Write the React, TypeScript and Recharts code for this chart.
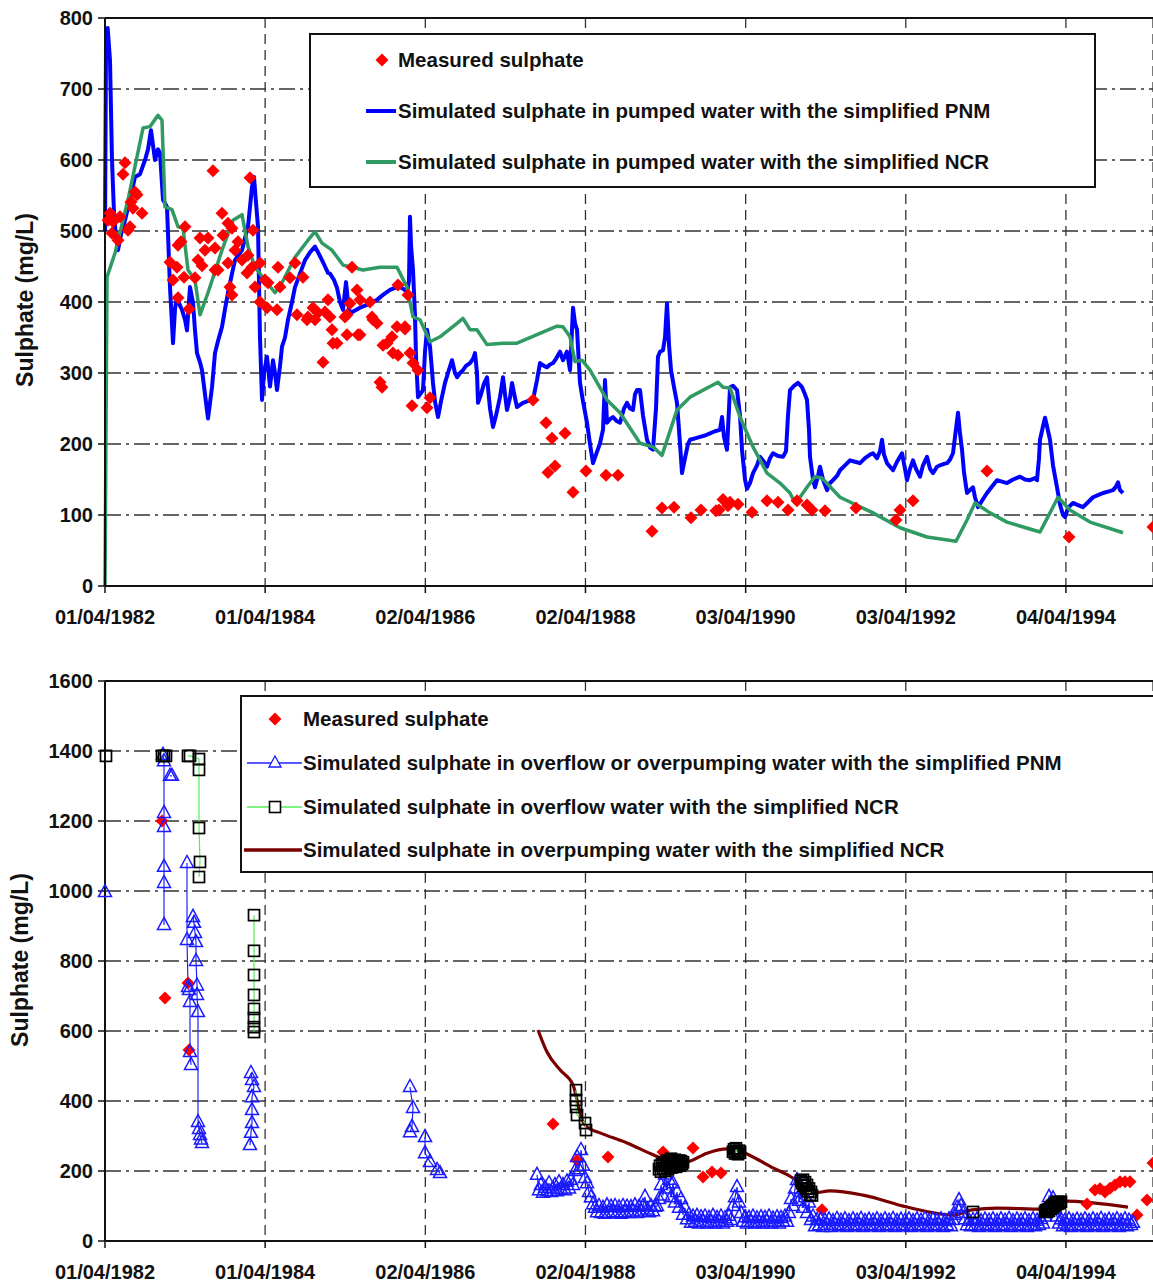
import React from 'react';
import { ComposedChart, Line, Scatter, XAxis, YAxis, CartesianGrid, ReferenceLine } from 'recharts';

// x values: months elapsed since 01/04/1982; y values: sulphate in mg/L
const xTickValues = [0, 24.02, 48.05, 72.07, 96.1, 120.12, 144.14];
const xTickLabels = ['01/04/1982', '01/04/1984', '02/04/1986', '02/04/1988', '03/04/1990', '03/04/1992', '04/04/1994'];
const topYTicks = [0, 100, 200, 300, 400, 500, 600, 700, 800];
const bottomYTicks = [0, 200, 400, 600, 800, 1000, 1200, 1400, 1600];

const topLegendLabels = [
  'Measured sulphate',
  'Simulated sulphate in pumped water with the simplified PNM',
  'Simulated sulphate in pumped water with the simplified NCR',
];
const bottomLegendLabels = [
  'Measured sulphate',
  'Simulated sulphate in overflow or overpumping water with the simplified PNM',
  'Simulated sulphate in overflow water with the simplified NCR',
  'Simulated sulphate in overpumping water with the simplified NCR',
];

const pnmPumped: [number, number][] = [
  [0,500],[0.15,760],[0.4,786],[0.6,760],[0.75,740],[1.05,600],[1.35,525],[1.65,490],[1.95,473],[2.4,495],[3,515],[3.75,545],[4.5,576],[5.25,580],[6,600],[6.45,615],[6.9,642],[7.5,600],[7.95,615],[8.25,610],[8.7,544],[9.3,534],[9.75,421],[10.2,342],[10.5,390],[10.8,407],[11.25,395],[11.55,389],[12,375],[12.3,360],[12.75,421],[13.2,399],[13.5,360],[13.8,328],[14.25,315],[14.55,304],[15,270],[15.45,236],[16.05,280],[16.5,328],[16.95,345],[17.55,365],[18,390],[18.45,413],[19.05,440],[19.5,459],[20.55,473],[21,490],[21.45,506],[22.05,562],[22.35,576],[22.65,540],[22.95,506],[23.25,350],[23.55,262],[23.85,300],[24.3,323],[24.75,281],[25.2,318],[25.5,300],[25.8,276],[26.25,310],[26.55,337],[27,350],[27.45,375],[28.05,400],[28.5,421],[29.25,440],[30,459],[30.75,470],[31.5,478],[31.95,470],[32.55,459],[33,450],[33.45,441],[33.75,440],[34.35,431],[34.8,420],[35.25,400],[35.7,389],[36.15,428],[36.45,400],[36.75,384],[37.5,388],[38.25,392],[39,395],[39.75,398],[40.8,403],[41.7,410],[42.75,417],[43.5,420],[44.25,421],[44.85,418],[45.3,413],[45.6,430],[45.75,520],[45.9,480],[46.2,445],[46.5,380],[46.65,323],[46.95,266],[47.25,270],[47.7,276],[48,330],[48.3,361],[48.75,337],[49.2,286],[49.5,260],[49.95,238],[50.4,260],[51,286],[51.45,300],[52.05,318],[52.5,300],[52.8,294],[53.25,300],[53.7,304],[54.15,310],[54.75,314],[55.2,320],[55.5,328],[55.8,300],[55.95,258],[56.4,270],[56.85,285],[57.3,294],[57.75,250],[58.2,224],[58.65,240],[59.25,266],[59.7,294],[60,270],[60.3,248],[60.75,265],[61.05,286],[61.5,265],[61.8,252],[62.25,255],[62.7,258],[63.3,260],[63.75,262],[64.2,262],[64.8,290],[65.25,314],[65.85,310],[66.3,308],[66.75,312],[67.2,314],[67.65,320],[68.25,330],[68.7,318],[69.3,330],[69.75,304],[69.9,330],[70.2,392],[70.5,370],[70.8,361],[71.25,286],[71.7,260],[72.3,230],[72.75,200],[73.2,173],[73.65,185],[74.25,201],[74.7,220],[75,290],[75.3,230],[75.75,235],[76.2,238],[76.8,232],[77.25,230],[77.85,250],[78.3,258],[78.75,250],[79.2,248],[79.5,270],[79.8,276],[80.25,276],[80.7,240],[81.3,206],[81.75,195],[82.2,192],[82.65,250],[82.95,323],[83.25,330],[83.7,332],[84,350],[84.3,398],[84.6,340],[84.9,304],[85.35,280],[85.8,258],[86.25,201],[86.55,159],[87,180],[87.45,200],[87.75,206],[88.5,208],[89.25,210],[90,212],[90.75,215],[91.5,218],[92.25,220],[92.55,238],[92.85,210],[93.3,192],[93.6,250],[93.75,280],[94.2,282],[94.8,276],[95.25,240],[95.55,192],[96,150],[96.3,137],[96.75,145],[97.2,159],[97.8,170],[98.25,182],[98.85,175],[99.3,168],[99.75,180],[100.2,187],[100.95,183],[101.7,182],[102.15,190],[102.45,240],[102.75,276],[103.35,282],[103.95,286],[104.55,280],[105,270],[105.3,262],[105.6,220],[105.75,182],[106.2,150],[106.5,139],[106.95,155],[107.25,168],[107.7,150],[108.3,135],[108.75,145],[109.2,149],[109.8,155],[110.25,163],[111,170],[111.75,177],[112.5,175],[113.25,173],[114,180],[114.75,185],[115.2,187],[115.8,180],[116.25,190],[116.55,206],[116.85,185],[117.3,173],[117.75,168],[118.2,163],[118.8,175],[119.55,187],[120,165],[120.3,149],[120.75,165],[121.2,177],[121.65,165],[122.25,154],[122.7,170],[123.3,182],[123.75,165],[124.2,159],[124.8,168],[125.25,170],[125.85,172],[126.3,173],[126.75,178],[127.2,187],[127.5,210],[127.95,244],[128.25,215],[128.55,192],[128.85,160],[129.3,131],[129.75,135],[130.2,139],[130.5,125],[130.95,111],[131.55,120],[132.3,131],[133.05,140],[133.8,149],[134.55,147],[135.3,145],[136.2,150],[137.25,154],[138,150],[138.75,149],[139.5,152],[139.8,149],[140.1,180],[140.25,206],[140.7,225],[141,237],[141.3,225],[141.75,206],[142.2,170],[142.8,139],[143.25,115],[143.7,100],[144,97],[144.45,110],[145.2,117],[145.95,114],[146.7,111],[147.45,118],[148.2,125],[148.95,128],[149.7,131],[150.45,133],[151.2,135],[151.65,140],[151.95,146],[152.25,135],[152.7,131],
];

const ncrPumped: [number, number][] = [
  [0,0],[0.3,435],[1.5,469],[3.45,544],[5.7,645],[6.75,647],[7.95,663],[8.55,656],[9,534],[10.05,530],[10.95,506],[11.7,504],[12.45,445],[13.5,431],[14.25,382],[15.45,413],[17.55,473],[19.2,515],[20.55,523],[21.45,478],[22.5,449],[24,431],[25.5,413],[26.55,427],[28.5,463],[30.45,487],[31.5,499],[32.55,483],[34.05,473],[35.7,452],[37.05,449],[38.7,445],[41.25,449],[43.8,449],[45.3,421],[46.2,379],[47.25,375],[48.75,344],[50.25,351],[52.8,370],[53.7,377],[54.75,361],[55.8,361],[57.3,340],[59.7,342],[61.8,342],[64.8,354],[67.8,366],[68.7,365],[69.75,351],[70.5,316],[71.55,318],[72.75,304],[75.3,262],[77.25,244],[80.25,201],[82.2,196],[83.55,184],[85.8,248],[87.75,266],[91.95,287],[92.7,280],[93.75,279],[95.25,238],[97.2,196],[99.3,159],[101.25,145],[102.75,131],[103.5,117],[104.25,125],[105.3,139],[106.5,154],[107.55,152],[110.25,125],[115.2,103],[119.25,82],[123.3,69],[127.65,63],[129.3,93],[130.5,117],[132.75,103],[135.3,90],[140.25,76],[141.75,103],[142.95,125],[144.75,107],[147.75,90],[152.7,75],
];

const measuredTop: [number, number][] = [
  [0.75,525],[0.45,515],[1.2,513],[1.05,497],[1.95,487],[2.25,520],[3,596],[2.7,580],[3.45,501],[3.75,506],[3.9,541],[4.5,555],[4.8,551],[4.2,532],[5.55,525],[16.2,585],[21.75,575],[22.2,501],[9.75,456],[10.8,449],[10.2,431],[10.95,406],[11.85,435],[11.4,485],[10.95,480],[12,506],[12.6,390],[13.5,434],[14.25,490],[15.45,490],[15,473],[13.95,459],[14.55,451],[16.5,476],[16.5,445],[16.95,445],[17.55,525],[17.7,494],[18.45,511],[19.05,504],[18.75,421],[19.05,410],[18.45,455],[19.5,473],[19.95,485],[20.55,459],[21.3,441],[21.45,466],[22.05,449],[22.5,421],[23.25,400],[23.25,455],[24,431],[24.45,427],[24.3,392],[25.8,389],[25.95,449],[26.25,421],[27.75,434],[28.5,455],[28.8,382],[29.7,435],[30.45,379],[31.2,392],[31.95,385],[31.5,375],[33,386],[32.7,315],[33.45,403],[34.05,361],[34.2,342],[30.3,375],[34.8,342],[37.95,354],[36.3,382],[41.25,287],[41.55,280],[40.2,375],[42.3,342],[43.2,328],[37.05,449],[37.8,417],[36.75,398],[38.25,403],[39.75,400],[36,379],[33.75,379],[36.3,354],[38.25,354],[40.05,379],[40.8,370],[41.7,339],[43.05,351],[43.8,365],[45,365],[43.95,424],[45.45,410],[43.95,325],[45.75,328],[46.2,314],[46.95,304],[45,362],[46.05,254],[48.3,251],[48.75,265],[64.2,262],[66.15,230],[67.05,208],[69,215],[66.45,160],[67.5,169],[70.2,132],[72.15,162],[75.15,156],[76.95,156],[82.05,77],[83.55,110],[85.35,111],[87.9,96],[89.4,107],[91.65,106],[92.1,107],[92.7,122],[93.75,118],[93.45,113],[94.95,115],[97.05,104],[99.3,120],[100.95,118],[102.45,107],[103.8,120],[105.3,114],[106.05,107],[108,106],[112.65,110],[118.65,93],[119.25,107],[121.2,120],[132.3,162],[144.6,69],[157.2,83],
];

const measuredBottom: [number, number][] = [
  [8.55,1200],[9,694],[12.45,737],[12.6,546],[67.2,334],[70.8,231],[75.45,240],[83.7,254],[88.2,266],[89.7,183],[91.05,197],[92.4,194],[107.55,89],[147.3,106],[148.5,146],[149.25,149],[150,140],[150.75,151],[151.5,160],[152.25,169],[153,169],[153.75,169],[154.8,74],[156.3,117],[157.2,223],
];

const pnmOverflow: [number, number | null][] = [
  [0,997],[0.2,null],
  [8.7,1389],[8.85,1371],[8.85,1223],[8.85,1183],[8.85,1069],[8.85,1023],[8.85,903],[9,null],
  [9.75,1329],[10.05,1329],[10.2,null],
  [12.3,1080],[12.3,860],[12.45,726],[12.6,717],[12.75,683],[12.75,540],[12.9,503],[13,null],
  [13.2,926],[13.35,909],[13.5,880],[13.65,854],[13.65,800],[13.8,730],[13.8,703],[13.95,654],[13.95,340],[14.1,320],[14.25,303],[14.4,290],[14.55,280],[14.7,null],
  [21.9,480],[22.05,460],[22.35,440],[22.05,411],[22.05,374],[22.05,337],[21.9,309],[21.75,274],[22.5,null],
  [45.75,440],[46.2,380],[46.05,326],[45.75,311],[46,null],
  [48,297],[48,251],[48.75,226],[49.8,203],[50.25,194],[50.5,null],
  [64.8,189],[65.1,145],[65.4,160],[65.7,138],[66,152],[66.3,142],[66.6,165],[66.9,140],[67.2,150],[67.5,160],[67.8,142],[68.1,168],[68.4,148],[68.7,160],[69,145],[69.3,170],[69.6,150],[69.9,175],[70.2,160],[70.5,200],[70.8,240],[71.1,205],[71.4,260],[71.7,215],[72,180],[72.3,165],[72.6,140],[72.9,125],[73.2,105],[73.5,95],[73.8,82],[74.1,100],[74.4,80],[74.7,95],[75,78],[75.3,102],[75.6,80],[75.9,98],[76.2,82],[76.5,100],[76.8,80],[77.1,96],[77.4,78],[77.7,100],[78,82],[78.3,98],[78.6,80],[78.9,97],[79.2,84],[79.5,102],[79.8,80],[80.1,98],[80.4,84],[80.7,100],[81,126],[81.3,90],[81.6,82],[81.9,100],[82.2,85],[82.5,98],[82.8,100],[83.1,120],[83.4,160],[83.7,130],[84,190],[84.3,150],[84.6,175],[84.9,125],[85.2,165],[85.5,110],[85.8,140],[86.1,95],[86.4,120],[86.7,75],[87,95],[87.3,62],[87.6,75],[87.9,52],[88.2,70],[88.5,55],[88.8,72],[89.1,50],[89.4,68],[89.7,55],[90,70],[90.3,50],[90.6,66],[90.9,54],[91.2,72],[91.5,50],[91.8,66],[92.1,56],[92.4,70],[92.7,50],[93,65],[93.3,55],[93.6,72],[93.9,60],[94.2,100],[94.5,125],[94.8,154],[95.1,110],[95.4,80],[95.7,55],[96,68],[96.3,50],[96.6,66],[96.9,54],[97.2,70],[97.5,50],[97.8,65],[98.1,54],[98.4,68],[98.7,50],[99,66],[99.3,56],[99.6,70],[99.9,50],[100.2,64],[100.5,55],[100.8,68],[101.1,50],[101.4,66],[101.7,56],[102,70],[102.3,55],[102.6,80],[102.9,120],[103.2,100],[103.5,150],[103.8,174],[104.1,115],[104.4,140],[104.7,95],[105,125],[105.3,80],[105.6,110],[105.9,60],[106.2,70],[106.5,42],[106.8,60],[107.1,45],[107.4,62],[107.7,40],[108,58],[108.3,46],[108.6,62],[108.9,40],[109.2,57],[109.5,46],[109.8,63],[110.1,42],[110.4,58],[110.7,46],[111,62],[111.3,40],[111.6,57],[111.9,45],[112.2,62],[112.5,42],[112.8,58],[113.1,46],[113.4,63],[113.7,40],[114,57],[114.3,45],[114.6,61],[114.9,42],[115.2,58],[115.5,46],[115.8,62],[116.1,40],[116.4,57],[116.7,45],[117,62],[117.3,42],[117.6,58],[117.9,46],[118.2,63],[118.5,40],[118.8,57],[119.1,45],[119.4,61],[119.7,42],[120,58],[120.3,46],[120.6,62],[120.9,40],[121.2,57],[121.5,45],[121.8,62],[122.1,42],[122.4,58],[122.7,46],[123,63],[123.3,40],[123.6,57],[123.9,45],[124.2,61],[124.5,42],[124.8,58],[125.1,46],[125.4,62],[125.7,40],[126,57],[126.3,45],[126.6,62],[126.9,42],[127.2,60],[127.5,75],[127.8,95],[128.1,117],[128.4,100],[128.7,80],[129,62],[129.3,45],[129.6,58],[129.9,42],[130.2,60],[130.5,45],[130.8,62],[131.1,40],[131.4,57],[131.7,46],[132,61],[132.3,42],[132.6,58],[132.9,46],[133.2,62],[133.5,40],[133.8,57],[134.1,45],[134.4,62],[134.7,42],[135,58],[135.3,46],[135.6,63],[135.9,40],[136.2,57],[136.5,45],[136.8,61],[137.1,42],[137.4,58],[137.7,46],[138,62],[138.3,40],[138.6,57],[138.9,45],[139.2,62],[139.5,42],[139.8,58],[140.1,46],[140.4,63],[140.7,50],[141,70],[141.3,95],[141.6,126],[141.9,110],[142.2,122],[142.5,90],[142.8,70],[143.1,50],[143.4,62],[143.7,42],[144,58],[144.3,46],[144.6,62],[144.9,40],[145.2,57],[145.5,45],[145.8,61],[146.1,42],[146.4,58],[146.7,46],[147,62],[147.3,40],[147.6,57],[147.9,45],[148.2,62],[148.5,42],[148.8,58],[149.1,46],[149.4,63],[149.7,40],[150,57],[150.3,45],[150.6,61],[150.9,42],[151.2,58],[151.5,46],[151.8,62],[152.1,40],[152.4,57],[152.7,45],[153,62],[153.3,42],[153.6,58],[153.9,46],[154.2,52],
];

const ncrOverflow: [number, number | null][] = [
  [0.15,1386],[0.3,null],
  [8.55,1386],[8.85,1386],[9.15,1386],[9.3,null],
  [12.45,1386],[12.75,1386],[14.1,1377],[14.1,1346],[14.1,1180],[14.25,1083],[14.1,1040],[14.4,null],
  [22.35,931],[22.35,829],[22.35,760],[22.35,703],[22.35,663],[22.35,637],[22.35,611],[22.35,597],[22.5,null],
  [70.65,431],[70.65,403],[70.65,383],[70.8,360],[72,337],[72.15,317],[72.3,null],
  [83.1,205],[83.25,215],[83.4,198],[83.55,220],[83.7,208],[83.85,225],[84,200],[84.15,218],[84.3,230],[84.45,205],[84.6,222],[84.75,212],[84.9,235],[85.05,210],[85.2,228],[85.35,215],[85.5,232],[85.65,212],[85.8,226],[85.95,218],[86.1,230],[86.25,215],[86.4,228],[86.55,220],[86.7,225],[86.9,null],
  [94.2,255],[94.35,262],[94.5,250],[94.65,265],[94.8,256],[94.95,248],[95.1,258],[95.25,252],[95.4,null],
  [104.4,172],[104.55,165],[104.7,175],[104.85,158],[105,168],[105.15,150],[105.3,160],[105.45,142],[105.6,150],[105.75,132],[105.9,140],[106.05,130],[106.2,null],
  [130.2,83],[130.4,null],
  [141,83],[141.15,88],[141.3,84],[141.45,90],[141.6,86],[141.75,95],[141.9,92],[142.05,100],[142.2,97],[142.35,105],[142.55,102],[142.7,110],[142.85,106],[143,112],[143.2,108],[143.4,112],
];

const ncrOverpumping: [number, number][] = [
  [64.95,603],[66.3,540],[68.25,489],[70.2,446],[71.55,346],[72.3,326],[74.25,309],[78.3,280],[81.3,254],[83.25,237],[84.3,223],[87.3,226],[90.3,251],[93.3,263],[94.8,260],[97.2,240],[100.2,209],[102.75,185],[104.25,166],[106.2,137],[108.75,143],[113.7,131],[120.3,97],[127.2,74],[130.05,89],[133.8,94],[140.7,91],[144.3,114],[148.2,109],[153.45,97],
];

const toPts = (arr: [number, number | null][]) => arr.map(([x, y]) => ({ x, y }));

const FONT = "'Liberation Sans', Arial, Helvetica, sans-serif";
const tickStyle = { fontSize: 20, fontWeight: 700, fill: '#111', fontFamily: FONT };

const xLabel = (v: number) => {
  let best = 0;
  xTickValues.forEach((t, i) => { if (Math.abs(t - v) < Math.abs(xTickValues[best] - v)) best = i; });
  return xTickLabels[best];
};

const DiamondShape = (p: any) => {
  const { cx, cy } = p;
  if (cx == null || cy == null || isNaN(cx) || isNaN(cy)) return <g />;
  const r = 6.5;
  return <path d={`M${cx},${cy - r}L${cx + r},${cy}L${cx},${cy + r}L${cx - r},${cy}Z`} fill="#ff0000" />;
};

const triDot = (p: any) => {
  const { cx, cy, index } = p;
  if (cx == null || cy == null || p.value == null || isNaN(cy)) return <g key={`t${index}`} />;
  return <path key={`t${index}`} d={`M${cx},${cy - 7.5}L${cx + 6.5},${cy + 4.5}L${cx - 6.5},${cy + 4.5}Z`} fill="none" stroke="#1a1aff" strokeWidth={1.5} />;
};

const sqDot = (p: any) => {
  const { cx, cy, index } = p;
  if (cx == null || cy == null || p.value == null || isNaN(cy)) return <g key={`s${index}`} />;
  return <rect key={`s${index}`} x={cx - 5.5} y={cy - 5.5} width={11} height={11} fill="none" stroke="#000" strokeWidth={1.7} />;
};

function TopChart() {
  return (
    <ComposedChart width={1153} height={640} margin={{ top: 18, right: 0, left: 0, bottom: 0 }}>
      <CartesianGrid vertical={false} stroke="#333" strokeWidth={1.3} strokeDasharray="16 5 3 5" />
      <CartesianGrid horizontal={false} stroke="#333" strokeWidth={1.3} strokeDasharray="10 6" />
      <XAxis type="number" dataKey="x" domain={[0, 157.2]} ticks={xTickValues} interval={0}
        tickFormatter={xLabel} tick={tickStyle} tickSize={7} tickMargin={17} height={54}
        axisLine={{ stroke: '#111', strokeWidth: 2 }} tickLine={{ stroke: '#111', strokeWidth: 1.5 }} />
      <YAxis type="number" domain={[0, 800]} ticks={topYTicks} interval={0} width={105}
        tick={tickStyle} tickSize={7} tickMargin={5}
        axisLine={{ stroke: '#111', strokeWidth: 2 }} tickLine={{ stroke: '#111', strokeWidth: 1.5 }} />
      <ReferenceLine y={800} stroke="#111" strokeWidth={2} />
      <Line data={toPts(pnmPumped)} dataKey="y" type="linear" stroke="#0000ff" strokeWidth={4} dot={false} isAnimationActive={false} strokeLinejoin="round" />
      <Line data={toPts(ncrPumped)} dataKey="y" type="linear" stroke="#2f9a62" strokeWidth={3.5} dot={false} isAnimationActive={false} strokeLinejoin="round" />
      <Scatter data={toPts(measuredTop)} dataKey="y" shape={DiamondShape} isAnimationActive={false} />
    </ComposedChart>
  );
}

function BottomChart() {
  return (
    <ComposedChart width={1153} height={626} margin={{ top: 21, right: 0, left: 0, bottom: 0 }}>
      <CartesianGrid vertical={false} stroke="#333" strokeWidth={1.3} strokeDasharray="16 5 3 5" />
      <CartesianGrid horizontal={false} stroke="#333" strokeWidth={1.3} strokeDasharray="10 6" />
      <XAxis type="number" dataKey="x" domain={[0, 157.2]} ticks={xTickValues} interval={0}
        tickFormatter={xLabel} tick={tickStyle} tickSize={7} tickMargin={17} height={45}
        axisLine={{ stroke: '#111', strokeWidth: 2 }} tickLine={{ stroke: '#111', strokeWidth: 1.5 }} />
      <YAxis type="number" domain={[0, 1600]} ticks={bottomYTicks} interval={0} width={105}
        tick={tickStyle} tickSize={7} tickMargin={5}
        axisLine={{ stroke: '#111', strokeWidth: 2 }} tickLine={{ stroke: '#111', strokeWidth: 1.5 }} />
      <ReferenceLine y={1600} stroke="#111" strokeWidth={2} />
      <Scatter data={toPts(measuredBottom)} dataKey="y" shape={DiamondShape} isAnimationActive={false} />
      <Line data={toPts(pnmOverflow)} dataKey="y" type="linear" stroke="#2222ff" strokeWidth={1.2} dot={triDot} connectNulls={false} isAnimationActive={false} />
      <Line data={toPts(ncrOverpumping)} dataKey="y" type="monotone" stroke="#7a0000" strokeWidth={3.2} dot={false} isAnimationActive={false} />
      <Line data={toPts(ncrOverflow)} dataKey="y" type="linear" stroke="#55ee55" strokeWidth={1.2} dot={sqDot} connectNulls={false} isAnimationActive={false} />
    </ComposedChart>
  );
}

const legendText: React.CSSProperties = {
  position: 'absolute', fontFamily: FONT, fontWeight: 700, fontSize: 20.5, color: '#111',
  whiteSpace: 'nowrap', lineHeight: '24px',
};

function TopLegend() {
  const rows = [27, 78, 129];
  return (
    <div style={{ position: 'absolute', left: 309, top: 33, width: 787, height: 155, border: '2px solid #111', background: '#fff', boxSizing: 'border-box' }}>
      <svg style={{ position: 'absolute', left: 0, top: 0 }} width={120} height={150}>
        <path d={`M71,${rows[0] - 2 - 6.5}L77.5,${rows[0] - 2}L71,${rows[0] - 2 + 6.5}L64.5,${rows[0] - 2}Z`} fill="#ff0000" />
        <line x1={55} x2={85} y1={rows[1] - 2} y2={rows[1] - 2} stroke="#0000ff" strokeWidth={4} />
        <line x1={55} x2={85} y1={rows[2] - 2} y2={rows[2] - 2} stroke="#2f9a62" strokeWidth={4} />
      </svg>
      {topLegendLabels.map((t, i) => (
        <div key={t} style={{ ...legendText, left: 87, top: rows[i] - 14 }}>{t}</div>
      ))}
    </div>
  );
}

function BottomLegend() {
  const rows = [22, 66, 110, 153];
  return (
    <div style={{ position: 'absolute', left: 240, top: 695, width: 930, height: 178, border: '2px solid #111', background: '#fff', boxSizing: 'border-box' }}>
      <svg style={{ position: 'absolute', left: 0, top: 0 }} width={70} height={178}>
        <path d={`M33,${rows[0] - 6.5}L39.5,${rows[0]}L33,${rows[0] + 6.5}L26.5,${rows[0]}Z`} fill="#ff0000" />
        <line x1={5} x2={60} y1={rows[1]} y2={rows[1]} stroke="#2222ff" strokeWidth={1.3} />
        <path d={`M33,${rows[1] - 7}L39,${rows[1] + 4}L27,${rows[1] + 4}Z`} fill="#fff" stroke="#1a1aff" strokeWidth={1.3} />
        <line x1={5} x2={60} y1={rows[2]} y2={rows[2]} stroke="#55ee55" strokeWidth={1.3} />
        <rect x={27.5} y={rows[2] - 5.5} width={11} height={11} fill="#fff" stroke="#000" strokeWidth={1.6} />
        <line x1={2} x2={60} y1={rows[3]} y2={rows[3]} stroke="#7a0000" strokeWidth={3.5} />
      </svg>
      {bottomLegendLabels.map((t, i) => (
        <div key={t} style={{ ...legendText, left: 61, top: rows[i] - 12 }}>{t}</div>
      ))}
    </div>
  );
}

const yTitle = (cx: number, cy: number): React.CSSProperties => ({
  position: 'absolute', left: cx, top: cy, transform: 'translate(-50%, -50%) rotate(-90deg)',
  fontFamily: FONT, fontWeight: 700, fontSize: 23, color: '#111', whiteSpace: 'nowrap',
});

export default function App() {
  return (
    <div style={{ position: 'absolute', left: 0, top: 0, width: 1153, height: 1287, overflow: 'hidden', background: '#fff' }}>
      <div style={{ position: 'absolute', left: 0, top: 0 }}>
        <TopChart />
      </div>
      <div style={{ position: 'absolute', left: 0, top: 660 }}>
        <BottomChart />
      </div>
      <TopLegend />
      <BottomLegend />
      <div style={yTitle(25, 300)}>Sulphate (mg/L)</div>
      <div style={yTitle(20, 960)}>Sulphate (mg/L)</div>
    </div>
  );
}
